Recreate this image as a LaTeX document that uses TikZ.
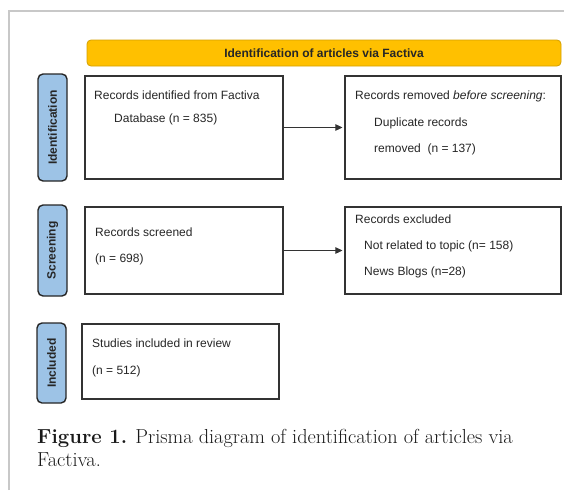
\documentclass[tikz,border=0pt]{standalone}
\usepackage{fontspec}
\newfontfamily\prismafont{Liberation Sans}
\usepackage{tikz}
\usetikzlibrary{arrows.meta}
\definecolor{bannerorange}{HTML}{FFC000}
\definecolor{bannerline}{HTML}{D4A000}
\definecolor{phaseblue}{HTML}{9DC3E6}
\definecolor{framegrey}{HTML}{C8C8C8}
\definecolor{boxline}{HTML}{333333}

\begin{document}
\begin{tikzpicture}[x=1pt,y=-1pt,
  banner/.style={draw=bannerline,fill=bannerorange,rounded corners=4pt,line width=0.8pt,inner sep=0pt,
    font=\prismafont\fontsize{12}{14}\selectfont\bfseries,text=black!85},
  phase/.style={draw=black!85,fill=phaseblue,rounded corners=5pt,line width=1.4pt,inner sep=0pt,rotate=90,
    font=\prismafont\fontsize{12}{14}\selectfont\bfseries,text=black!85},
  box/.style={draw=boxline,fill=white,line width=1.1pt,inner sep=0pt},
  txt/.style={anchor=base west,inner sep=0pt,font=\prismafont\fontsize{12}{14}\selectfont,text=black!85},
  caption/.style={anchor=base west,inner sep=0pt,font=\fontsize{20.3}{24}\selectfont,text=black!90},
  arr/.style={-{Triangle[length=7pt,width=6.5pt]},line width=0.7pt,black!80,shorten >=2pt}]
\useasboundingbox (0,0) rectangle (564,490);
\draw[framegrey,line width=1.5pt](9,490)--(9,11)--(564,11);

\node[banner,minimum width=474pt,minimum height=26pt] (head) at (324,53) {Identification of articles via Factiva};

\node[phase,minimum width=107pt,minimum height=29pt] (identification) at (52.5,127.5) {Identification};
\node[phase,minimum width=91pt,minimum height=29pt] (screening) at (52.5,250.5) {Screening};
\node[phase,minimum width=80pt,minimum height=29pt] (included) at (51.5,363) {Included};

\node[box,minimum width=198pt,minimum height=103pt] (identified) at (184,127.5) {};
\node[box,minimum width=216pt,minimum height=103pt] (removed) at (453,127.5) {};
\node[box,minimum width=198pt,minimum height=87pt] (screened) at (184,250.5) {};
\node[box,minimum width=216pt,minimum height=87pt] (excluded) at (453,250.5) {};
\node[box,minimum width=197pt,minimum height=75pt] (studies) at (180.5,361.5) {};

\node[txt] (t1) at (94,99) {Records identified from Factiva};
\node[txt] (t2) at (114,122) {Database (n = 835)};
\node[txt] (t3) at (355,99) {Records removed \textit{before screening}:};
\node[txt] (t4) at (374,126) {Duplicate records};
\node[txt] (t5) at (374,152) {removed\ \ (n = 137)};
\node[txt] (t6) at (95,236) {Records screened};
\node[txt] (t7) at (95,262) {(n = 698)};
\node[txt] (t8) at (355,223) {Records excluded};
\node[txt] (t9) at (364,249) {Not related to topic (n= 158)};
\node[txt] (t10) at (364,275) {News Blogs (n=28)};
\node[txt] (t11) at (92,347) {Studies included in review};
\node[txt] (t12) at (92,374) {(n = 512)};

\draw[arr](identified)--(removed);
\draw[arr](screened)--(excluded);

\node[caption] (cap1) at (37,443) {\textbf{Figure 1.} Prisma diagram of identification of articles via};
\node[caption] (cap2) at (37,466) {Factiva.};
\end{tikzpicture}
\end{document}
